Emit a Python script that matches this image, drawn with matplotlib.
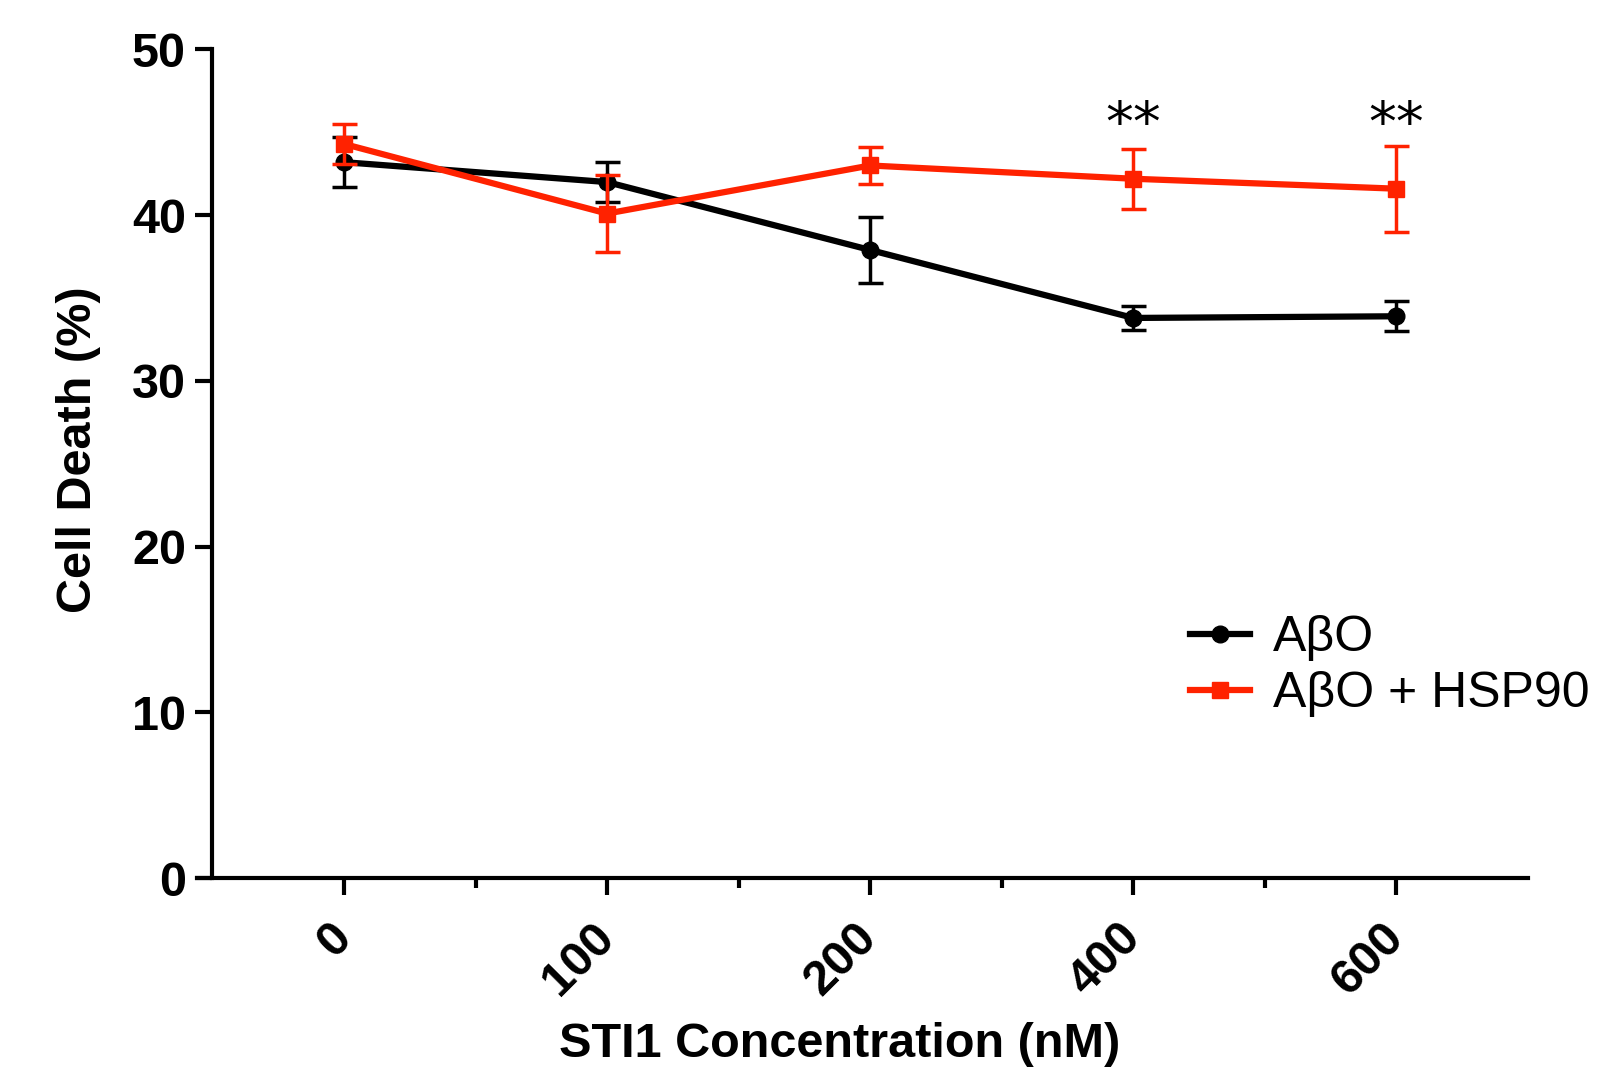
import matplotlib
matplotlib.use('Agg')
import matplotlib.pyplot as plt
from matplotlib.lines import Line2D
import numpy as np

plt.rcParams['font.family'] = ['Liberation Sans', 'DejaVu Sans']

conc_labels = ['0', '100', '200', '400', '600']
abo_mean = [43.2, 42.0, 37.9, 33.8, 33.9]
abo_err = [1.5, 1.2, 2.0, 0.75, 0.9]
hsp_mean = [44.3, 40.1, 43.0, 42.2, 41.6]
hsp_err = [1.2, 2.3, 1.1, 1.8, 2.6]
stars = ['', '', '', '**', '**']
red = '#ff2200'

x = np.arange(len(conc_labels))

fig = plt.figure(figsize=(16.05, 10.76), dpi=100)
ax = fig.add_axes([0.1225, 0.184, 0.8295, 0.77])

ax.errorbar(x, abo_mean, yerr=abo_err, color='black', marker='o',
            markersize=12, lw=4.5, elinewidth=2.5, capsize=9,
            capthick=2.5, zorder=3)
ax.errorbar(x, hsp_mean, yerr=hsp_err, color=red, marker='s',
            markersize=12, lw=4.5, elinewidth=2.5, capsize=9,
            capthick=2.5, zorder=4)

for xi, s in zip(x, stars):
    if s:
        ax.text(xi, 45.4, s, ha='center', va='center', fontsize=40,
                family='DejaVu Sans')

ax.set_xlim(-0.56, 4.5)
ax.set_ylim(0, 50)
ax.spines['top'].set_visible(False)
ax.spines['right'].set_visible(False)
ax.spines['left'].set_position(('data', -0.5))
ax.spines['left'].set_linewidth(3)
ax.spines['bottom'].set_linewidth(3)

ax.set_xticks(x)
ax.set_xticks(x[:-1] + 0.5, minor=True)
ax.set_xticklabels(conc_labels, rotation=45, ha='right', va='center',
                   rotation_mode='anchor', fontsize=35, fontweight='bold')
ax.set_yticks([0, 10, 20, 30, 40, 50])
ax.tick_params(axis='y', labelsize=35, width=3, length=12, pad=7)
for lab in ax.get_yticklabels():
    lab.set_fontweight('bold')
ax.tick_params(axis='x', which='major', width=3, length=12, pad=26)
ax.tick_params(axis='x', which='minor', width=3, length=7)

ax.set_ylabel('Cell Death (%)', fontsize=35, fontweight='bold', labelpad=22)
ax.yaxis.label.set_y(0.517)
ax.set_xlabel('STI1 Concentration (nM)', fontsize=35, fontweight='bold',
              labelpad=13)
ax.xaxis.label.set_x(0.483)

handles = [
    Line2D([], [], color='black', marker='o', markersize=12, lw=4.5),
    Line2D([], [], color=red, marker='s', markersize=12, lw=4.5),
]
ax.legend(handles, ['A\u03b2O', 'A\u03b2O + HSP90'], loc='lower right',
          bbox_to_anchor=(1.08, 0.14), frameon=False, fontsize=36,
          handlelength=1.2, handletextpad=0.45, labelspacing=0.2)

fig.savefig('out.png', dpi=100)
